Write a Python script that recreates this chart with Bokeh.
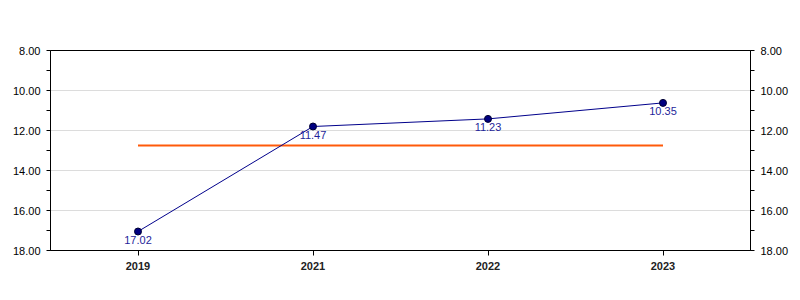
from bokeh.plotting import figure
from bokeh.models import Range1d, LinearAxis, FixedTicker, NumeralTickFormatter, ColumnDataSource
from bokeh.core.properties import value
from bokeh.embed import file_html
from bokeh.resources import INLINE

years = ["2019", "2021", "2022", "2023"]
# plotted positions
values = [17.05, 11.8, 11.42, 10.62]
# data labels as printed in the picture
labels = ["17.02", "11.47", "11.23", "10.35"]
reference_value = 12.75
y_ticks = [8, 10, 12, 14, 16, 18]
y_minor = [9, 11, 13, 15, 17]

src = ColumnDataSource(dict(x=years, y=values, lab=labels))

p = figure(width=800, height=300, x_range=years, y_range=Range1d(18, 8),
           output_backend="svg", toolbar_location=None,
           min_border_left=50, min_border_right=50, min_border_top=50, min_border_bottom=50)
p.frame_width = 700
p.frame_height = 200
p.outline_line_color = "black"
p.outline_line_width = 1
p.background_fill_color = "white"
p.border_fill_color = "white"

font = "Liberation Sans"

p.yaxis.ticker = FixedTicker(ticks=y_ticks, minor_ticks=y_minor)
p.yaxis.formatter = NumeralTickFormatter(format="0.00")
right = LinearAxis(ticker=FixedTicker(ticks=y_ticks, minor_ticks=y_minor),
                   formatter=NumeralTickFormatter(format="0.00"))
p.add_layout(right, "right")
for ax in p.yaxis:
    ax.axis_line_color = "black"
    ax.major_tick_line_color = "black"
    ax.minor_tick_line_color = "black"
    ax.major_tick_in = 0
    ax.major_tick_out = 4
    ax.minor_tick_in = 0
    ax.minor_tick_out = 4
    ax.major_label_text_font = font
    ax.major_label_text_font_size = "11px"
    ax.major_label_text_color = "black"
    ax.major_label_standoff = 6

xa = p.xaxis[0]
xa.axis_line_color = "black"
xa.major_tick_in = 0
xa.major_tick_out = 5
xa.major_tick_line_color = "black"
xa.major_label_text_font = font
xa.major_label_text_font_size = "11px"
xa.major_label_text_font_style = "bold"
xa.major_label_text_color = "#222222"
xa.major_label_standoff = 6

p.xgrid.grid_line_color = None
p.ygrid.ticker = FixedTicker(ticks=y_ticks)
p.ygrid.grid_line_color = "#dcdcdc"
p.ygrid.grid_line_width = 1

p.line(x=[years[0], years[-1]], y=[reference_value, reference_value], line_color="#ff5a0a", line_width=2)
p.line("x", "y", source=src, line_color="#00008b", line_width=1)
p.scatter("x", "y", source=src, size=7, fill_color="#000080", line_color="#000033", line_width=1)
p.text("x", "y", text="lab", source=src, text_align="center", text_baseline="top", y_offset=4,
       text_font_size="11px", text_color="#1f1f9a", text_font=value(font))

open("out.html", "w").write(file_html(p, INLINE))
